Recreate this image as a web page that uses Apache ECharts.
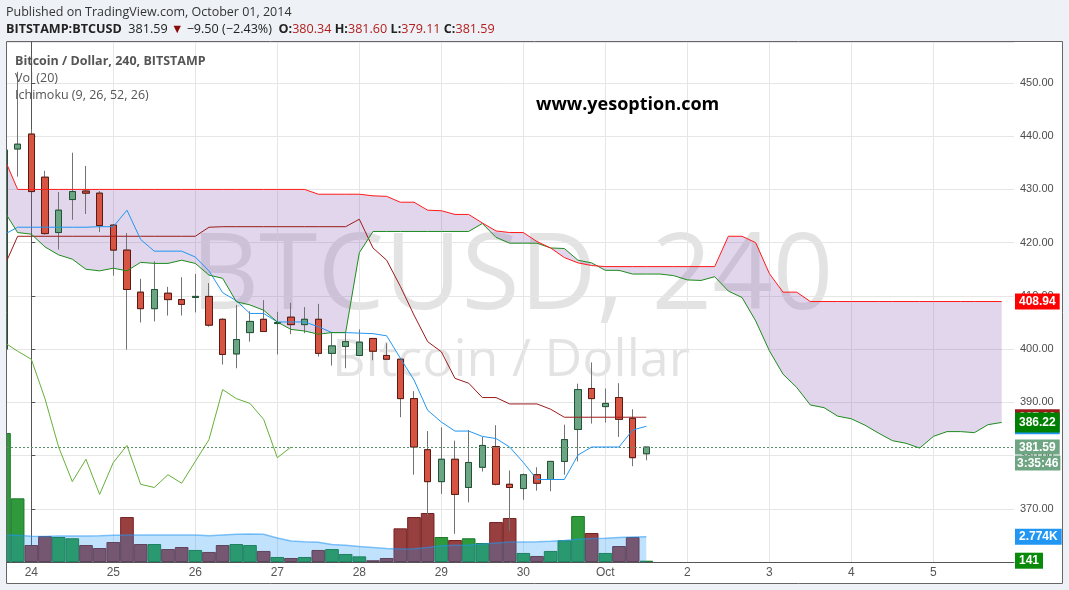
<!DOCTYPE html>
<html><head><meta charset="utf-8">
<script src="https://cdn.jsdelivr.net/npm/echarts@6/dist/echarts.min.js"></script>
<style>html,body{margin:0;padding:0;background:#eef2f6;}#c{width:1069px;height:590px;}</style>
</head><body><div id="c"></div>
<script>
// ---- axis / label data ----
const dayLabels   = ['24','25','26','27','28','29','30','Oct','2','3','4','5'];
const dayTickBars = [0, 6, 12, 18, 24, 30, 36, 42, 48, 54, 60, 66]; // 4h bar numbers (bar 0 = 24 Sep 00:00)
const firstBar = -2;

// ---- price candles (bars -2 .. 45) ----
const opens  = [400, 437.6, 440.4, 432.3, 421.9, 428.1, 429.7, 429.3, 423.3, 418.6, 410.7, 407.6, 410.5, 409.3, 409.7, 409.9, 405.6, 399.1, 403.1, 405.6, 404.8, 406.0, 404.6, 405.6, 399.2, 400.5, 398.8, 402.0, 398.8, 398.1, 390.7, 381.1, 375.1, 379.3, 374.0, 377.8, 381.7, 374.6, 373.8, 376.4, 375.5, 378.9, 384.9, 392.6, 389.2, 390.9, 387.0, 380.34];
const closes = [437.4, 438.5, 429.6, 421.7, 426.1, 429.6, 429.3, 423.2, 418.6, 411.2, 407.6, 411.2, 409.3, 408.4, 409.9, 404.5, 399.0, 401.8, 405.2, 403.3, 405.0, 404.6, 405.6, 399.2, 400.6, 401.4, 401.3, 399.6, 398.1, 390.7, 381.6, 375.1, 379.3, 372.7, 378.7, 381.9, 374.6, 374.0, 376.4, 374.8, 378.9, 383.0, 392.4, 390.7, 389.8, 386.8, 379.6, 381.59];
const lows   = [398, 432.4, 429.5, 421.5, 418.7, 424.3, 425.4, 422.0, 413.8, 399.9, 405.0, 405.2, 406.3, 406.3, 406.9, 404.2, 397.1, 396.4, 401.4, 403.3, 399.0, 402.8, 403.0, 398.6, 396.9, 396.4, 398.8, 397.9, 398.0, 387.2, 376.4, 368.8, 372.8, 365.3, 371.2, 377.0, 374.4, 365.8, 371.7, 373.4, 373.3, 376.4, 378.9, 386.0, 386.2, 383.5, 378.0, 379.11];
const highs  = [439, 452.1, 441.3, 433.5, 429.5, 436.9, 434.4, 429.7, 423.5, 421.8, 413.2, 416.5, 411.7, 413.5, 414.1, 412.4, 405.8, 408.3, 407.1, 409.2, 407.0, 408.7, 407.9, 408.5, 403.1, 403.0, 403.7, 402.0, 401.1, 398.3, 392.1, 384.6, 385.3, 382.8, 384.8, 383.5, 385.7, 377.2, 376.6, 377.8, 379.0, 385.8, 393.5, 397.5, 392.6, 393.6, 388.7, 381.60];

// ---- volume (bars -2 .. 45) ----
const volumes = [14140, 6980, 1860, 2850, 2740, 2600, 1860, 1530, 2190, 4930, 1970, 1970, 1420, 1640, 1320, 1100, 1860, 1970, 1860, 1210, 550, 440, 550, 1320, 1420, 880, 620, 190, 440, 3690, 4930, 5370, 2740, 2410, 2600, 2080, 4380, 4820, 990, 660, 1210, 2380, 5040, 3180, 990, 1750, 2740, 141];
const volMA20 = [2930, 2930, 2820, 2800, 2850, 2850, 2850, 2880, 2930, 2960, 2960, 2960, 2960, 2960, 2960, 2880, 2960, 3040, 3070, 3040, 2630, 2300, 2220, 2160, 1920, 1830, 1700, 1590, 1480, 1420, 1460, 1590, 1790, 1830, 1860, 1970, 2080, 2190, 2190, 2220, 2270, 2360, 2490, 2580, 2600, 2690, 2740, 2774];

// ---- Ichimoku (bars -2 .. 45) ----
const tenkan = [421.5, 422.9, 422.9, 422.9, 422.9, 422.9, 422.9, 423.0, 423.0, 426.1, 420.6, 418.4, 418.4, 418.4, 417.3, 414.7, 410.6, 409.1, 406.7, 406.7, 405.1, 405.1, 405.1, 404.2, 403.1, 403.1, 403.0, 402.9, 402.5, 398.3, 394.2, 388.5, 386.3, 384.6, 384.6, 383.6, 383.2, 381.6, 378.7, 375.5, 375.5, 375.5, 380.1, 381.6, 381.6, 381.6, 384.8, 385.5];
const kijun  = [415.4, 421.2, 421.2, 421.2, 421.2, 421.2, 421.2, 421.2, 421.2, 421.2, 421.2, 421.2, 421.2, 421.2, 421.2, 422.9, 423.0, 423.0, 423.0, 423.0, 423.0, 423.0, 423.0, 423.0, 423.0, 423.0, 424.4, 419.0, 416.7, 411.8, 406.4, 401.4, 399.5, 394.5, 393.6, 390.9, 390.9, 389.7, 389.7, 389.7, 388.7, 387.2, 387.2, 387.2, 387.2, 387.2, 387.2, 387.2];
// lagging span (bars -2 .. 19)
const chikou = [401.3, 399.6, 398.1, 390.7, 381.6, 375.1, 379.3, 372.7, 378.7, 381.9, 374.6, 374.0, 376.4, 374.8, 378.9, 383.0, 392.4, 390.7, 389.8, 386.8, 379.6, 381.59];
// leading spans (bars -2 .. 71)
const spanA = [426.0, 421.9, 421.6, 419.2, 417.7, 416.9, 415.0, 414.7, 415.2, 414.7, 416.3, 416.1, 416.1, 416.7, 416.1, 413.9, 413.3, 408.9, 408.3, 407.3, 405.1, 403.7, 403.4, 402.8, 403.1, 403.1, 418.1, 422.1, 422.1, 422.1, 422.1, 422.1, 422.1, 422.1, 422.1, 423.6, 421.0, 419.9, 419.9, 419.9, 419.0, 418.9, 416.7, 416.2, 414.8, 414.8, 414.1, 414.1, 414.1, 413.8, 413.0, 412.9, 413.6, 410.9, 409.7, 405.3, 399.7, 395.3, 392.8, 389.5, 389.0, 387.4, 386.9, 385.7, 384.2, 382.8, 382.3, 381.4, 383.6, 384.5, 384.5, 384.3, 385.8, 386.22];
const spanB = [436.0, 430.0, 430.0, 430.0, 430.0, 430.0, 430.0, 430.0, 430.0, 430.0, 430.0, 430.0, 430.0, 430.0, 430.0, 430.0, 430.0, 430.0, 430.0, 430.0, 430.0, 430.0, 430.0, 429.1, 429.1, 429.1, 429.1, 428.8, 428.7, 427.6, 427.6, 426.1, 426.0, 425.3, 425.3, 423.7, 422.2, 421.9, 421.9, 420.2, 419.0, 417.2, 416.2, 415.7, 415.5, 415.5, 415.5, 415.5, 415.5, 415.5, 415.5, 415.5, 415.5, 421.2, 421.2, 420.0, 414.2, 410.7, 410.7, 408.94, 408.94, 408.94, 408.94, 408.94, 408.94, 408.94, 408.94, 408.94, 408.94, 408.94, 408.94, 408.94, 408.94, 408.94];

const countdown = '3:35:46';

// ---- build library data ----
const bx = i => firstBar + i;
const pairs = arr => arr.map((v, i) => [bx(i), v]);
const candleFull = opens.map((o, i) => [bx(i), o, closes[i], lows[i], highs[i]]);
const candleBody = opens.map((o, i) => [bx(i), o, closes[i], Math.min(o, closes[i]), Math.max(o, closes[i])]);
const volData = volumes.map((v, i) => ({
  value: [bx(i), v],
  itemStyle: closes[i] >= opens[i]
    ? {color: '#2e9a3c', borderColor: '#1c7a2a'}
    : {color: '#983f3f', borderColor: '#772222'}
}));
const last = a => a[a.length - 1];

const AX = '"Liberation Sans", Arial, sans-serif';
const OS = '"Open Sans", sans-serif';
const X_MIN = -1.778, X_MAX = 71.9;
const PAGE = '#eef2f6';

function tag(bg, text, extra) {
  return Object.assign({
    show: true, position: 'end', distance: 1,
    formatter: text, color: '#fff', backgroundColor: bg,
    padding: [2, 4, 1, 4], fontSize: 12, lineHeight: 13, fontFamily: AX, fontWeight: 'bold'
  }, extra || {});
}
function priceMark(value, label, z) {
  return {
    silent: true, symbol: ['none', 'none'], animation: false, z: z || 5,
    lineStyle: {color: 'transparent', width: 0},
    label: label,
    data: [{yAxis: value}]
  };
}

const chart = echarts.init(document.getElementById('c'));
const option = {
  animation: false,
  backgroundColor: PAGE,
  grid: {left: 7, right: 55, top: 42, bottom: 28},
  xAxis: {
    type: 'value', min: X_MIN, max: X_MAX,
    axisLine: {show: true, onZero: false, lineStyle: {color: '#555'}},
    axisTick: {show: false, customValues: dayTickBars},
    axisLabel: {customValues: dayTickBars, formatter: v => dayLabels[dayTickBars.indexOf(v)],
      color: '#555', fontSize: 12, fontFamily: AX, margin: 5},
    splitLine: {show: true, lineStyle: {color: '#e6e6e6'}}
  },
  yAxis: [{
    type: 'value', position: 'right', min: 360, max: 457.7, interval: 10,
    axisLine: {show: true, lineStyle: {color: '#555'}},
    axisTick: {show: true, length: 4, lineStyle: {color: '#555'}},
    axisLabel: {formatter: v => v.toFixed(2), color: '#4d4d4d', fontSize: 11, fontFamily: AX, margin: 6,
      showMinLabel: false, showMaxLabel: false},
    splitLine: {show: true, lineStyle: {color: '#e6e6e6'}}
  }, {
    type: 'value', min: 0, max: 57000, show: false
  }],
  graphic: [
    {type: 'rect', z: -100, shape: {x: 6.5, y: 41.5, width: 1056, height: 542},
      style: {fill: '#ffffff', stroke: '#666', lineWidth: 1}},
    {type: 'text', z: -50, x: 512, y: 279,
      style: {text: 'BTCUSD, 240', font: '106px ' + OS, fill: 'rgba(0,0,0,0.11)', textAlign: 'center', textVerticalAlign: 'middle'}},
    {type: 'text', z: -50, x: 511, y: 361,
      style: {text: 'Bitcoin / Dollar', font: '52px ' + OS, fill: 'rgba(0,0,0,0.11)', textAlign: 'center', textVerticalAlign: 'middle'}},
    // page strip left of the frame (hides the partial first bar outside the pane)
    {type: 'rect', z: 100, shape: {x: 0, y: 40, width: 6.5, height: 546}, style: {fill: PAGE}},
    {type: 'line', z: 101, shape: {x1: 6.5, y1: 41.5, x2: 6.5, y2: 583.5}, style: {stroke: '#666', lineWidth: 1}},
    {type: 'text', z: 50, x: 6, y: 12,
      style: {text: 'Published on TradingView.com, October 01, 2014', font: '12.5px ' + OS, fill: '#333', textVerticalAlign: 'middle'}},
    {type: 'text', z: 50, x: 6, y: 29,
      style: {
        text: '{b|BITSTAMP:BTCUSD}  381.59 {d|▼} −9.50 (−2.43%)  {b|O:}{r|380.34} {b|H:}{r|381.60} {b|L:}{r|379.11} {b|C:}{r|381.59}',
        font: '12.6px ' + OS, fill: '#222', textVerticalAlign: 'middle',
        rich: {
          b: {fontWeight: 'bold', fontSize: 12.6, fontFamily: OS, fill: '#222'},
          r: {fill: '#b21d1d', fontSize: 12.6, fontFamily: OS},
          d: {fill: '#8b0a0a', fontSize: 12.6, fontFamily: OS}
        }
      }},
    {type: 'text', z: 50, x: 15, y: 61,
      style: {text: 'Bitcoin / Dollar, 240, BITSTAMP', font: 'bold 12.5px ' + OS, fill: '#555', textVerticalAlign: 'middle'}},
    {type: 'text', z: 50, x: 15, y: 78,
      style: {text: 'Vol (20)', font: '12.5px ' + OS, fill: '#555', textVerticalAlign: 'middle'}},
    {type: 'text', z: 50, x: 15, y: 95,
      style: {text: 'Ichimoku (9, 26, 52, 26)', font: '12.5px ' + OS, fill: '#555', textVerticalAlign: 'middle'}},
    {type: 'text', z: 50, x: 536, y: 105,
      style: {text: 'www.yesoption.com', font: 'bold 18px ' + OS, fill: '#000', textVerticalAlign: 'middle'}}
  ],
  series: [
    {name: 'Volume', type: 'bar', yAxisIndex: 1, data: volData, barWidth: 13.67, z: 2,
      itemStyle: {borderWidth: 1},
      markLine: priceMark(last(volumes), tag('#0a8a0a', p => String(last(volumes))), 5)},
    {name: 'Vol MA', type: 'line', yAxisIndex: 1, data: pairs(volMA20), symbol: 'none', z: 3,
      lineStyle: {color: 'rgba(33,150,243,0.55)', width: 1.5},
      areaStyle: {color: 'rgba(33,150,243,0.4)'},
      markLine: priceMark(last(volMA20), tag('#2196f3', p => (last(volMA20) / 1000).toFixed(3) + 'K'), 5)},
    {name: 'Cloud', type: 'custom', z: 2, clip: true, silent: true, data: [[0, 420]],
      renderItem: function (params, api) {
        const pts = [];
        for (let i = 0; i < spanA.length; i++) pts.push(api.coord([bx(i), spanA[i]]));
        for (let i = spanB.length - 1; i >= 0; i--) pts.push(api.coord([bx(i), spanB[i]]));
        return {type: 'polygon', shape: {points: pts}, style: {fill: 'rgba(135,91,175,0.25)'}};
      }},
    {name: 'wicks', type: 'candlestick', data: candleFull, encode: {x: 0, y: [1, 2, 3, 4]}, barWidth: 7, z: 4,
      itemStyle: {color: '#737373', color0: '#737373', borderColor: '#737373', borderColor0: '#737373', borderWidth: 1}},
    {name: 'bodies', type: 'candlestick', data: candleBody, encode: {x: 0, y: [1, 2, 3, 4]}, barWidth: 7, z: 5,
      itemStyle: {color: '#6ba583', color0: '#d75442', borderColor: '#225437', borderColor0: '#5b1a13', borderWidth: 1},
      markLine: {
        silent: true, symbol: ['none', 'none'], animation: false, z: 6,
        lineStyle: {color: '#5c8f6c', width: 1, type: [2, 2]},
        label: {show: true, position: 'end', distance: 1,
          formatter: () => '{e| }\n{a|' + last(closes).toFixed(2) + '}\n{b|' + countdown + '}',
          rich: {
            e: {lineHeight: 16, fontSize: 12},
            a: {backgroundColor: '#6fa583', color: '#fff', padding: [2, 4, 1, 4], fontSize: 12, lineHeight: 16, fontFamily: AX, fontWeight: 'bold'},
            b: {backgroundColor: '#6fa583', color: '#fff', padding: [2, 2, 1, 2], fontSize: 12, lineHeight: 16, fontFamily: AX, fontWeight: 'bold'}
          }},
        data: [{yAxis: last(closes)}]
      }},
    {name: 'Lagging Span', type: 'line', data: pairs(chikou), symbol: 'none', z: 7,
      lineStyle: {color: '#66b03a', width: 1}},
    {name: 'Base Line', type: 'line', data: pairs(kijun), symbol: 'none', z: 7,
      lineStyle: {color: '#9b1b1b', width: 1},
      markLine: priceMark(last(kijun), tag('#9b1b1b', p => last(kijun).toFixed(2)), 6)},
    {name: 'Conversion Line', type: 'line', data: pairs(tenkan), symbol: 'none', z: 7,
      lineStyle: {color: '#2196f3', width: 1},
      markLine: priceMark(last(tenkan), tag('#2196f3', p => last(tenkan).toFixed(2)), 6)},
    {name: 'Lead 1', type: 'line', data: pairs(spanA), symbol: 'none', z: 7,
      lineStyle: {color: '#1e8c1e', width: 1},
      markLine: priceMark(last(spanA), tag('#008000', p => last(spanA).toFixed(2), {padding: [4, 4, 3, 4]}), 8)},
    {name: 'Lead 2', type: 'line', data: pairs(spanB), symbol: 'none', z: 7,
      lineStyle: {color: '#ff1a1a', width: 1},
      markLine: priceMark(last(spanB), tag('#ff0000', p => last(spanB).toFixed(2)), 8)}
  ]
};
chart.setOption(option);
</script>
</body></html>
